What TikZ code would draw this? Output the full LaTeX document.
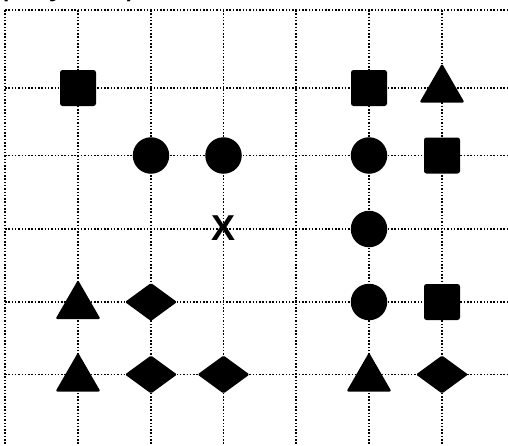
\documentclass[tikz,border=0pt]{standalone}
\usepackage{fontspec}
\setmainfont{Liberation Sans}
\usetikzlibrary{shapes.geometric}
\begin{document}
\begin{tikzpicture}[x=1pt,y=-1pt,
  gridline/.style={line width=1.5pt, dash pattern=on 1.5pt off 1.8pt, line cap=butt},
  sqbox/.style={fill=black, rectangle, rounded corners=2.5pt, minimum size=36pt, inner sep=0pt, outer sep=0pt},
  cibox/.style={fill=black, circle, minimum size=36.5pt, inner sep=0pt, outer sep=0pt},
  tribox/.style={fill=black, regular polygon, regular polygon sides=3, minimum size=52pt, inner sep=0pt, outer sep=0pt, rounded corners=2pt},
  diabox/.style={fill=black, diamond, minimum width=52pt, minimum height=38pt, inner sep=0pt, outer sep=0pt, rounded corners=1.5pt},
  xbox/.style={inner sep=0pt, font=\fontsize{36}{36}\selectfont\bfseries}
]
\useasboundingbox (0,0) rectangle (508,445);
% grid
\foreach \gx in {5,78,151,223.5,296,369,442} {
  \draw[gridline] (\gx,10) -- (\gx,445);
}
\foreach \gy in {10,88,155.5,229,302,374.5} {
  \draw[gridline] (5,\gy) -- (508,\gy);
}
% title, clipped by the top edge as in the reference
\node[anchor=base west, inner sep=0pt, font=\fontsize{35}{35}\selectfont] (title) at (-48.4,-5.6) {Display map};
% shapes
\node[sqbox] (s1) at (78,88) {};
\node[sqbox] (s2) at (369,88) {};
\node[tribox] (t1) at (442,89.5) {};
\node[cibox] (c1) at (151,155.5) {};
\node[cibox] (c2) at (223.5,155.5) {};
\node[cibox] (c3) at (369,155.5) {};
\node[sqbox] (s3) at (442,155.5) {};
\node[xbox] (xm) at (223.5,228.5) {X};
\node[cibox] (c4) at (369,229) {};
\node[tribox] (t2) at (78,306) {};
\node[diabox] (d1) at (151,302) {};
\node[cibox] (c5) at (369,302) {};
\node[sqbox] (s4) at (442,302) {};
\node[tribox] (t3) at (78,378.5) {};
\node[diabox] (d2) at (151,374.5) {};
\node[diabox] (d3) at (223.5,374.5) {};
\node[tribox] (t4) at (369,378.5) {};
\node[diabox] (d4) at (442,374.5) {};
\end{tikzpicture}
\end{document}
